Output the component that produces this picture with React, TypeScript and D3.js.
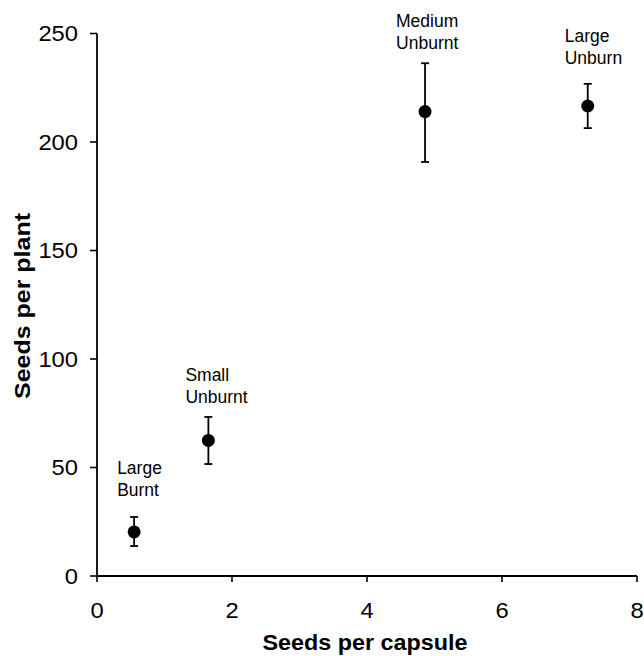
import React from "react";
import * as d3 from "d3";

const groups = ["Large\nBurnt", "Small\nUnburnt", "Medium\nUnburnt", "Large\nUnburn"];
const seedsPerCapsule = [0.55, 1.65, 4.86, 7.27];
const seedsPerPlant = [20.3, 62.5, 214, 216.6];
const errLow = [13.8, 51.6, 190.8, 206.4];
const errHigh = [27.2, 73.3, 236.3, 226.8];
const xTicks = [0, 2, 4, 6, 8];
const yTicks = [0, 50, 100, 150, 200, 250];
// label anchor offsets relative to point (px)
const labelDx = [-17, -23, -29, -23];
const labelDy = [-64, -66, -91, -70];

const W = 644;
const H = 656;

export default function App() {
  const x = d3.scaleLinear().domain([0, 8]).range([97, 637]);
  const y = d3.scaleLinear().domain([0, 250]).range([576, 33.5]);
  const font = "'Liberation Sans', Arial, sans-serif";
  return (
    <svg width={W} height={H} style={{ position: "absolute", left: 0, top: 0, background: "#fff" }} fontFamily={font}>
      <line x1={x(0)} x2={x(0)} y1={y(0)} y2={y(250)} stroke="#000" strokeWidth={1.8} />
      <line x1={x(0)} x2={x(8)} y1={y(0)} y2={y(0)} stroke="#000" strokeWidth={1.8} />
      {yTicks.map((t) => (
        <g key={"y" + t}>
          <line x1={x(0) - 7} x2={x(0)} y1={y(t)} y2={y(t)} stroke="#000" strokeWidth={1.6} />
          <text x={78} y={y(t)} dy="0.36em" textAnchor="end" fontSize={22} transform={`translate(78,0) scale(1.08,1) translate(-78,0)`}>{t}</text>
        </g>
      ))}
      {xTicks.map((t) => (
        <g key={"x" + t}>
          <line x1={x(t)} x2={x(t)} y1={y(0)} y2={y(0) + 6} stroke="#000" strokeWidth={1.6} />
          <text x={x(t)} y={610} dy="0.36em" textAnchor="middle" fontSize={22} transform={`translate(${x(t)},0) scale(1.08,1) translate(${-x(t)},0)`}>{t}</text>
        </g>
      ))}
      <text x={365} y={650} textAnchor="middle" fontSize={22} fontWeight="bold" textLength={205} lengthAdjust="spacingAndGlyphs">Seeds per capsule</text>
      <text transform={`translate(30,${306}) rotate(-90)`} textAnchor="middle" fontSize={22} fontWeight="bold" textLength={186} lengthAdjust="spacingAndGlyphs">Seeds per plant</text>
      {seedsPerCapsule.map((sx, i) => {
        const cx = x(sx);
        return (
          <g key={i}>
            <line x1={cx} x2={cx} y1={y(errLow[i])} y2={y(errHigh[i])} stroke="#000" strokeWidth={1.8} />
            <line x1={cx - 4} x2={cx + 4} y1={y(errLow[i])} y2={y(errLow[i])} stroke="#000" strokeWidth={1.8} />
            <line x1={cx - 4} x2={cx + 4} y1={y(errHigh[i])} y2={y(errHigh[i])} stroke="#000" strokeWidth={1.8} />
            <circle cx={cx} cy={y(seedsPerPlant[i])} r={6.5} fill="#000" />
            {groups[i].split("\n").map((ln, j) => (
              <text key={j} x={cx + labelDx[i]} y={y(seedsPerPlant[i]) + labelDy[i] + j * 22} dy="0.36em" fontSize={17.5}>{ln}</text>
            ))}
          </g>
        );
      })}
    </svg>
  );
}
